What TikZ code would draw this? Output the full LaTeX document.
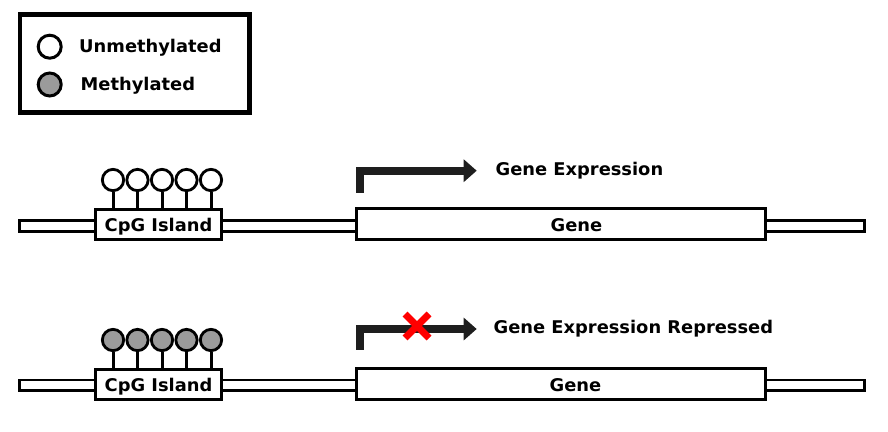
\documentclass[tikz,border=0pt]{standalone}
\usepackage{fontspec}
\newfontfamily\lab[FakeStretch=1.02]{DejaVu Sans}
\usetikzlibrary{arrows.meta}
\definecolor{mgray}{HTML}{9B9B9B}
\definecolor{arrowblk}{HTML}{1E1E1E}
\tikzset{
  txt/.style={font=\lab\bfseries\fontsize{17.5}{21}\selectfont, inner sep=0pt, text=black},
  bar/.style={draw, line width=2.8pt, fill=white, rectangle, inner sep=0pt, minimum width=845pt, minimum height=10.7pt},
  cpgbox/.style={draw, line width=3pt, fill=white, rectangle, inner sep=0pt, minimum width=126pt, minimum height=30pt},
  genebox/.style={draw, line width=3pt, fill=white, rectangle, inner sep=0pt, minimum width=409pt, minimum height=31pt},
  lolli/.style={draw, line width=2.8pt, circle, inner sep=0pt, minimum size=21.3pt},
  stem/.style={line width=3pt},
  legcirc/.style={draw, line width=3pt, circle, inner sep=0pt, minimum size=23pt},
  promoter/.style={line width=8pt, draw=arrowblk, miter limit=10, -{Triangle[length=13pt,width=22pt]}},
  cross/.style={line width=7pt, draw=red}
}
\begin{document}
\begin{tikzpicture}[x=1pt,y=-1pt]
\useasboundingbox (0,0) rectangle (888,431);
% legend
\node[draw, line width=4.5pt, rectangle, inner sep=0pt, minimum width=229.5pt, minimum height=98pt] (legend) at (134.75,63.5) {};
\node[legcirc, fill=white] (legU) at (49.7,46.7) {};
\node[legcirc, fill=mgray] (legM) at (49.7,84.5) {};
\node[txt, anchor=base west] (legUt) at (79,52) {Unmethylated};
\node[txt, anchor=base west] (legMt) at (80.5,90) {Methylated};

% ---------- top row ----------
\node[bar] (bar1) at (442,225.75) {};
\node[cpgbox] (cpg1) at (158.5,224.5) {};
\node[txt, anchor=base] (cpg1t) at (158.5,231.5) {CpG Island};
\node[genebox] (gene1) at (561,224) {};
\node[txt, anchor=base] (gene1t) at (576.5,231.5) {Gene};
\foreach \i/\x in {1/113,2/137.5,3/162,4/186.5,5/211}{
  \node[lolli, fill=white] (a\i) at (\x,180) {};
  \draw[stem] (a\i.south) -- (a\i.south |- cpg1.north);
}
\coordinate (p1s) at (359.5,192.7);
\coordinate (p1e) at (476.7,170.7);
\draw[promoter] (p1s) |- (p1e);
\node[txt, anchor=base west] (expr1) at (495.5,175.7) {Gene Expression};

% ---------- bottom row ----------
\node[bar] (bar2) at (442,385.25) {};
\node[cpgbox] (cpg2) at (158.5,384.5) {};
\node[txt, anchor=base] (cpg2t) at (158.5,391.5) {CpG Island};
\node[genebox] (gene2) at (561,384) {};
\node[txt, anchor=base] (gene2t) at (575.5,391.5) {Gene};
\foreach \i/\x in {1/113,2/137.5,3/162,4/186.5,5/211}{
  \node[lolli, fill=mgray] (b\i) at (\x,340) {};
  \draw[stem] (b\i.south) -- (b\i.south |- cpg2.north);
}
\coordinate (p2s) at (359.5,349.5);
\coordinate (p2e) at (476.7,329);
\draw[promoter] (p2s) |- (p2e);
\coordinate (x1) at (405,314);
\coordinate (x2) at (429,338);
\coordinate (x3) at (405,338);
\coordinate (x4) at (429,314);
\draw[cross] (x1) -- (x2);
\draw[cross] (x3) -- (x4);
\node[txt, anchor=base west] (expr2) at (493.5,333.3) {Gene Expression Repressed};
\end{tikzpicture}
\end{document}
